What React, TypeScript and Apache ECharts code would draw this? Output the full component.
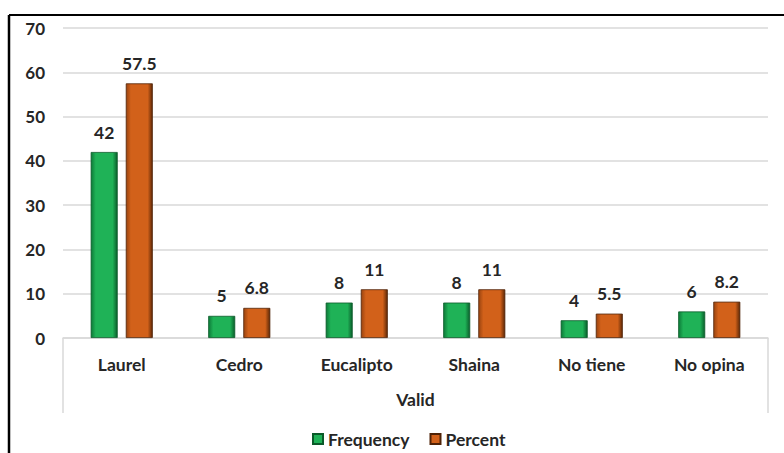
import React, { useEffect, useRef } from "react";
import * as echarts from "echarts";

const categories = ["Laurel", "Cedro", "Eucalipto", "Shaina", "No tiene", "No opina"];
const frequency = [42, 5, 8, 8, 4, 6];
const percent = [57.5, 6.8, 11, 11, 5.5, 8.2];
const groupLabel = ["Valid"];
const seriesNames = ["Frequency", "Percent"];

const FONT = "Lato, 'Open Sans', sans-serif";
const TXT = "#262626";

const greenFill = new echarts.graphic.LinearGradient(0, 0, 1, 0, [
  { offset: 0, color: "#0d7a38" },
  { offset: 0.18, color: "#1fb257" },
  { offset: 0.82, color: "#1fb257" },
  { offset: 1, color: "#0a5e2b" },
]);
const orangeFill = new echarts.graphic.LinearGradient(0, 0, 1, 0, [
  { offset: 0, color: "#9a4410" },
  { offset: 0.18, color: "#d2611a" },
  { offset: 0.82, color: "#d2611a" },
  { offset: 1, color: "#5e2806" },
]);

export default function App() {
  const ref = useRef<HTMLDivElement>(null);
  useEffect(() => {
    if (!ref.current) return;
    const chart = echarts.init(ref.current, null, { renderer: "svg" });
    const labelStyle = {
      show: true,
      position: "top" as const,
      distance: 11,
      fontFamily: FONT,
      fontWeight: "bold" as const,
      fontSize: 17.5,
      color: TXT,
    };
    chart.setOption({
      animation: false,
      backgroundColor: "#ffffff",
      textStyle: { fontFamily: FONT },
      grid: { left: 63, right: 16, top: 28, bottom: 115, containLabel: false },
      graphic: [
        { type: "line", shape: { x1: 9, y1: 15, x2: 784, y2: 15 }, style: { stroke: "#000", lineWidth: 2 } },
        { type: "line", shape: { x1: 9, y1: 15, x2: 9, y2: 453 }, style: { stroke: "#000", lineWidth: 2.5 } },
      ],
      legend: {
        bottom: 0,
        left: 307,
        itemWidth: 10,
        itemHeight: 10,
        itemGap: 20,
        icon: "rect",
        data: [
          { name: seriesNames[0], itemStyle: { color: "#1fb257" } },
          { name: seriesNames[1], itemStyle: { color: "#d2611a" } },
        ],
        textStyle: { fontFamily: FONT, fontSize: 17.5, fontWeight: "bold", color: TXT },
      },
      xAxis: [
        {
          type: "category",
          data: categories,
          position: "bottom",
          axisLine: { show: true, lineStyle: { color: "#d9d9d9", width: 1.5 } },
          axisTick: { show: false },
          axisLabel: { margin: 17, fontFamily: FONT, fontSize: 17.5, fontWeight: "bold", color: TXT },
        },
        {
          type: "category",
          data: groupLabel,
          position: "bottom",
          axisLine: { show: false },
          axisTick: { show: true, length: 75, lineStyle: { color: "#d9d9d9", width: 1.5 } },
          axisLabel: { margin: 52, fontFamily: FONT, fontSize: 17.5, fontWeight: "bold", color: TXT },
        },
      ],
      yAxis: {
        type: "value",
        min: 0,
        max: 70,
        interval: 10,
        axisLine: { show: false },
        axisTick: { show: false },
        splitLine: { lineStyle: { color: "#d9d9d9", width: 1.5 } },
        axisLabel: { margin: 18, fontFamily: FONT, fontSize: 17, fontWeight: "bold", color: TXT },
      },
      series: [
        {
          name: seriesNames[0],
          type: "bar",
          data: frequency,
          barWidth: 27,
          barGap: "30%",
          itemStyle: { color: greenFill, borderColor: "#0a5a29", borderWidth: 0.8 },
          label: labelStyle,
        },
        {
          name: seriesNames[1],
          type: "bar",
          data: percent,
          barWidth: 27,
          barGap: "30%",
          itemStyle: { color: orangeFill, borderColor: "#4f2206", borderWidth: 0.8 },
          label: labelStyle,
        },
      ],
    });
    return () => chart.dispose();
  }, []);
  return (
    <div
      ref={ref}
      style={{ position: "absolute", left: 0, top: 0, width: 784, height: 453 }}
    />
  );
}
